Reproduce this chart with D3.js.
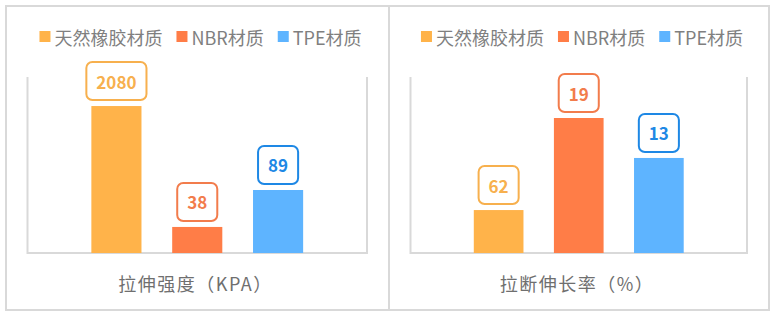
<!DOCTYPE html>
<html>
<head>
<meta charset="utf-8">
<script src="https://cdn.jsdelivr.net/npm/d3@7"></script>
<style>
  body { margin: 0; background: #fff; }
  text { font-family: "Noto Sans CJK SC", "Noto Sans", sans-serif; }
</style>
</head>
<body>
<div id="chart"></div>
<script>
// materials (legend + categories)
const materials = ["天然橡胶材质", "NBR材质", "TPE材质"];

// left panel: tensile strength
const tensileTitle = "拉伸强度（KPA）";
const tensileHeights = [83.5, 14.8, 35.8];   // bar heights as drawn (not to label scale)
const tensileLabels = ["2080", "38", "89"];

// right panel: elongation at break
const elongTitle = "拉断伸长率（%）";
const elongHeights = [24.4, 76.7, 54];
const elongLabels = ["62", "19", "13"];

const barColors = ["#FFB34A", "#FF7D47", "#5EB4FF"];
const labelColors = ["#F7B04E", "#F27C4C", "#1E88E5"];

let width = 777, height = 317;

let svg = d3.select("#chart")
  .append("svg")
    .attr("width", width)
    .attr("height", height);

function panel(x0, x1, title, heights, labels) {
  let top = 6, bottom = 310;

  // frame
  svg.append("rect")
    .attr("x", x0).attr("y", top)
    .attr("width", x1 - x0).attr("height", bottom - top)
    .attr("fill", "none")
    .attr("stroke", "#d9d9d9")
    .attr("stroke-width", 2);

  let plotL = x0 + 21.5, plotR = x1 - 22;

  let x = d3.scaleBand()
    .domain(materials)
    .range([plotL, plotR])
    .paddingInner(0.38)
    .paddingOuter(0.79);

  let y = d3.scaleLinear()
    .domain([0, 100])
    .range([253, 77]);

  let g = svg.append("g");

  // axis frame: left, right and baseline
  g.append("path")
    .attr("d", "M" + plotL + "," + y(100) + "V" + y(0) + "H" + plotR + "V" + y(100))
    .attr("fill", "none")
    .attr("stroke", "#d9d9d9")
    .attr("stroke-width", 2);

  let rows = materials.map((m, i) => ({ m: m, h: heights[i], label: labels[i], i: i }));

  g.selectAll(".bar")
    .data(rows)
    .enter()
    .append("rect")
      .attr("x", d => x(d.m))
      .attr("y", d => y(d.h))
      .attr("width", x.bandwidth())
      .attr("height", d => y(0) - y(d.h))
      .attr("fill", d => barColors[d.i]);

  // value labels in rounded boxes
  let lab = g.selectAll(".lab")
    .data(rows)
    .enter()
    .append("g");

  lab.append("text")
    .attr("x", d => x(d.m) + x.bandwidth() / 2)
    .attr("y", d => y(d.h) - 25)
    .attr("text-anchor", "middle")
    .attr("dominant-baseline", "central")
    .style("font-size", "17px")
    .style("font-weight", "bold")
    .attr("fill", d => labelColors[d.i])
    .text(d => d.label);

  lab.each(function(d) {
    let t = d3.select(this).select("text").node();
    let w = t.getComputedTextLength() + 20;
    d3.select(this).insert("rect", "text")
      .attr("x", x(d.m) + x.bandwidth() / 2 - w / 2)
      .attr("y", y(d.h) - 44)
      .attr("width", w)
      .attr("height", 38)
      .attr("rx", 6)
      .attr("fill", "white")
      .attr("stroke", labelColors[d.i])
      .attr("stroke-width", 2);
  });

  // legend
  let leg = svg.append("g");
  let cx = 0;
  materials.forEach((m, i) => {
    leg.append("rect")
      .attr("x", cx).attr("y", 31)
      .attr("width", 11).attr("height", 11)
      .attr("fill", barColors[i]);
    let t = leg.append("text")
      .attr("x", cx + 15).attr("y", 37)
      .attr("dominant-baseline", "central")
      .style("font-size", "18px")
      .attr("fill", "#7f7f7f")
      .text(m);
    cx += 15 + t.node().getComputedTextLength() + 14;
  });
  let legW = cx - 14;
  leg.attr("transform", "translate(" + ((x0 + x1) / 2 + 3 - legW / 2) + ",0)");

  // bottom title
  svg.append("text")
    .attr("x", (x0 + x1) / 2 - 2)
    .attr("y", 283)
    .attr("text-anchor", "middle")
    .attr("dominant-baseline", "central")
    .style("font-size", "18px")
    .style("letter-spacing", "1.5px")
    .attr("fill", "#6f6f6f")
    .text(title);
}

panel(6, 389, tensileTitle, tensileHeights, tensileLabels);
panel(389, 769, elongTitle, elongHeights, elongLabels);
</script>
</body>
</html>
